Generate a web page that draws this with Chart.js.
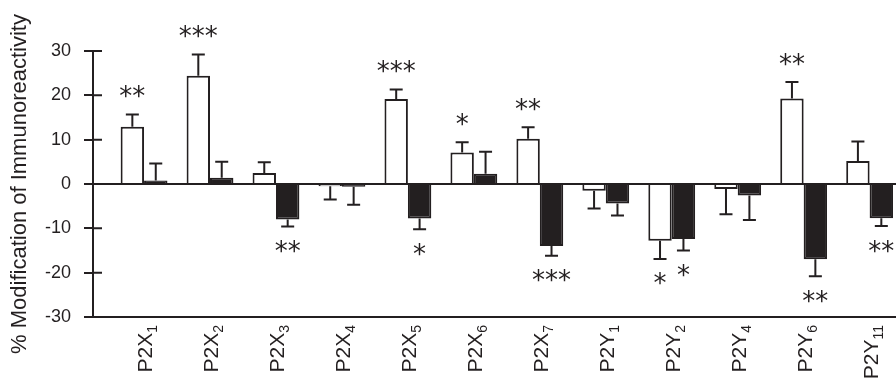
<!DOCTYPE html>
<html>
<head>
<meta charset="utf-8">
<script src="https://cdn.jsdelivr.net/npm/chart.js@4/dist/chart.umd.min.js"></script>
<style>
  html, body { margin: 0; padding: 0; background: #fff; overflow: hidden; }
  #wrap { width: 896px; height: 383px; position: relative; }
</style>
</head>
<body>
<div id="wrap"><canvas id="chart"></canvas></div>
<script>
// receptor subtypes on the x axis (trailing digits are drawn as subscripts)
const categories = ['P2X1', 'P2X2', 'P2X3', 'P2X4', 'P2X5', 'P2X6', 'P2X7', 'P2Y1', 'P2Y2', 'P2Y4', 'P2Y6', 'P2Y11'];

// open (white) bars
const openMeans  = [12.9, 24.4, 2.5, -0.5, 19.2, 7.1, 10.2, -1.5, -12.8, -1.1, 19.3, 5.2];
const openErrors = [2.8, 4.8, 2.4, 3.0, 2.1, 2.3, 2.6, 4.0, 4.1, 5.7, 3.7, 4.4];
const openStars  = ['**', '***', '', '', '***', '*', '**', '', '*', '', '**', ''];

// filled (black) bars
const filledMeans  = [0.8, 1.4, -8.0, -0.6, -7.8, 2.3, -14.0, -4.4, -12.4, -2.6, -17.0, -7.7];
const filledErrors = [3.8, 3.6, 1.6, 4.1, 2.4, 5.0, 2.2, 2.7, 2.6, 5.5, 3.8, 1.8];
const filledStars  = ['', '', '**', '', '*', '', '***', '', '*', '', '**', '**'];

const yTicks = [-30, -20, -10, 0, 10, 20, 30];

const INK = '#231f20';
const FONT = "'Liberation Sans', Arial, sans-serif";
Chart.defaults.font.family = FONT;
Chart.defaults.color = INK;

const errors = [openErrors, filledErrors];
const stars = [openStars, filledStars];

// error bars (one sided, away from zero) + significance asterisks
const errorPlugin = {
  id: 'errorBars',
  afterDatasetsDraw(chart) {
    const ctx = chart.ctx;
    const y = chart.scales.y;
    ctx.save();
    ctx.strokeStyle = INK;
    ctx.fillStyle = INK;
    ctx.lineWidth = 2;
    ctx.font = "26px 'DejaVu Sans'";
    ctx.textAlign = 'center';
    chart.data.datasets.forEach((ds, d) => {
      const meta = chart.getDatasetMeta(d);
      meta.data.forEach((bar, i) => {
        const v = ds.data[i].y;
        const sign = v >= 0 ? 1 : -1;
        const y0 = y.getPixelForValue(v);
        const y1 = y.getPixelForValue(v + sign * errors[d][i]);
        ctx.beginPath();
        ctx.moveTo(bar.x, y0);
        ctx.lineTo(bar.x, y1);
        ctx.moveTo(bar.x - 6.5, y1);
        ctx.lineTo(bar.x + 6.5, y1);
        ctx.stroke();
        const s = stars[d][i];
        if (s) {
          const m = ctx.measureText(s);
          const cy = sign > 0 ? y1 - 23 : y1 + 20;
          ctx.fillText(s, bar.x, cy + (m.actualBoundingBoxAscent - m.actualBoundingBoxDescent) / 2);
        }
      });
    });
    // inner half of the y tick marks
    const left = chart.chartArea.left;
    ctx.beginPath();
    yTicks.forEach(t => {
      const py = y.getPixelForValue(t);
      ctx.moveTo(left, py);
      ctx.lineTo(left + 9, py);
    });
    ctx.stroke();
    ctx.restore();
  }
};

// rotated x labels with a real subscript
const labelPlugin = {
  id: 'subLabels',
  afterDraw(chart) {
    const ctx = chart.ctx;
    const x = chart.scales.x;
    const top = x.top + 8;
    ctx.save();
    ctx.fillStyle = INK;
    ctx.textBaseline = 'alphabetic';
    ctx.textAlign = 'left';
    categories.forEach((c, i) => {
      const m = c.match(/^(.+\D)(\d+)$/);
      const base = m ? m[1] : c;
      const sub = m ? m[2] : '';
      ctx.font = '21px ' + FONT;
      const wb = ctx.measureText(base).width;
      ctx.font = '14px ' + FONT;
      const ws = ctx.measureText(sub).width;
      ctx.save();
      ctx.translate(x.getPixelForValue(i), top);
      ctx.rotate(-Math.PI / 2);
      ctx.font = '21px ' + FONT;
      ctx.fillText(base, -(wb + ws), 8);
      ctx.font = '14px ' + FONT;
      ctx.fillText(sub, -ws, 13);
      ctx.restore();
    });
    ctx.restore();
  }
};

new Chart(document.getElementById('chart'), {
  type: 'bar',
  data: {
    datasets: [
      {
        label: 'open',
        data: openMeans.map((v, i) => ({ x: i, y: v })),
        backgroundColor: '#ffffff',
        borderColor: INK,
        borderWidth: 2
      },
      {
        label: 'filled',
        data: filledMeans.map((v, i) => ({ x: i, y: v })),
        backgroundColor: INK,
        borderColor: INK,
        borderWidth: 2
      }
    ]
  },
  options: {
    responsive: true,
    maintainAspectRatio: false,
    animation: false,
    layout: { padding: { top: 51, right: 0, bottom: 0, left: 0 } },
    plugins: { legend: { display: false }, tooltip: { enabled: false } },
    datasets: { bar: { categoryPercentage: 0.71, barPercentage: 1 } },
    scales: {
      x: {
        type: 'linear',
        min: -0.774,
        max: 11.4,
        offset: false,
        grid: { display: false, drawTicks: false, offset: false },
        border: { color: INK, width: 2 },
        afterBuildTicks: s => { s.ticks = categories.map((c, i) => ({ value: i })); },
        afterFit: s => { s.height = 66; },
        ticks: { display: false }
      },
      y: {
        min: -30,
        max: 30,
        afterBuildTicks: s => { s.ticks = yTicks.map(v => ({ value: v })); },
        afterFit: s => { s.width = 93; },
        grid: {
          color: c => (c.tick && c.tick.value === 0 ? INK : 'rgba(0,0,0,0)'),
          lineWidth: 2,
          tickColor: INK,
          tickLength: 9,
          drawTicks: true
        },
        border: { color: INK, width: 2 },
        ticks: { font: { size: 18 }, color: INK, padding: 13 },
        title: {
          display: true,
          text: '% Modification of Immunoreactivity',
          font: { size: 22 },
          color: INK,
          padding: { top: 7, bottom: 0 }
        }
      }
    }
  },
  plugins: [errorPlugin, labelPlugin]
});
</script>
</body>
</html>
